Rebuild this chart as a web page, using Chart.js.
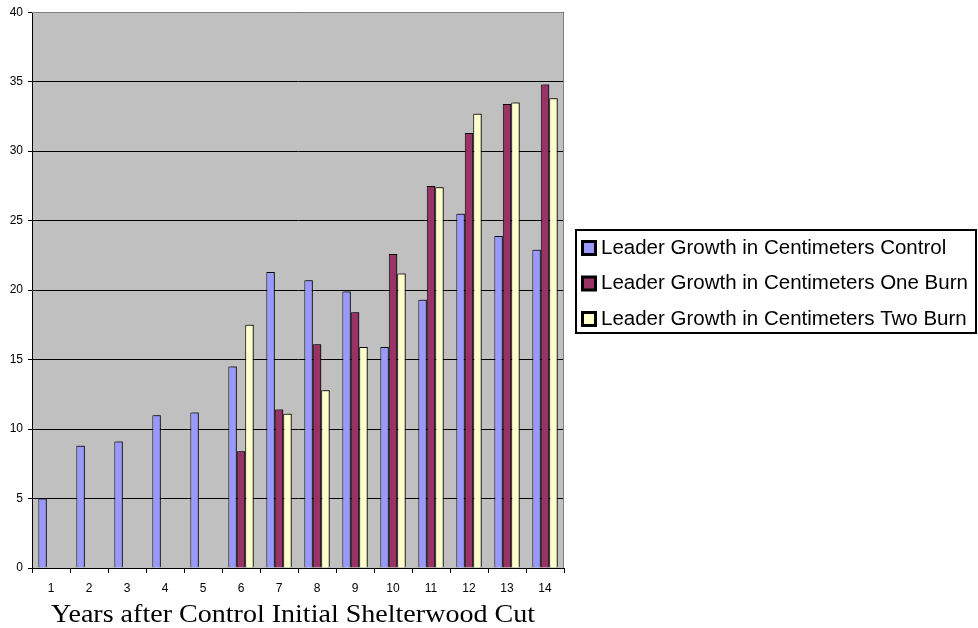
<!DOCTYPE html>
<html>
<head>
<meta charset="utf-8">
<script src="https://cdn.jsdelivr.net/npm/chart.js@4/dist/chart.umd.min.js"></script>
<style>
  html, body { margin: 0; padding: 0; background: #ffffff; }
  #wrap { width: 978px; height: 628px; position: relative; }
</style>
</head>
<body>
<div id="wrap"><canvas id="chart" width="978" height="628"></canvas></div>
<script>
// Years since the initial shelterwood cut
const years = ['1','2','3','4','5','6','7','8','9','10','11','12','13','14'];

// Leader growth (cm) per treatment; burns began in year 6
const controlGrowth = [5.0, 8.8, 9.1, 11.0, 11.2, 14.5, 21.3, 20.7, 19.9, 15.9, 19.3, 25.5, 23.9, 22.9];
const oneBurnGrowth = [null, null, null, null, null, 8.4, 11.4, 16.1, 18.4, 22.6, 27.5, 31.3, 33.4, 34.8];
const twoBurnGrowth = [null, null, null, null, null, 17.5, 11.1, 12.8, 15.9, 21.2, 27.4, 32.7, 33.5, 33.8];

const seriesNames = [
  'Leader Growth in Centimeters Control',
  'Leader Growth in Centimeters One Burn',
  'Leader Growth in Centimeters Two Burn'
];
const xTitle = 'Years after Control Initial Shelterwood Cut';

const SANS = "'Liberation Sans', Arial, sans-serif";
const SERIF = "'Liberation Serif', 'Times New Roman', serif";

// Grey plot background plus the thin grey frame on top/right
const plotFrame = {
  id: 'plotFrame',
  beforeDraw(chart) {
    const { ctx, chartArea: a } = chart;
    ctx.save();
    ctx.fillStyle = '#C0C0C0';
    ctx.fillRect(a.left, a.top, a.right - a.left, a.bottom - a.top);
    ctx.restore();
  },
  afterDatasetsDraw(chart) {
    const { ctx, chartArea: a } = chart;
    ctx.save();
    ctx.strokeStyle = '#808080';
    ctx.lineWidth = 1;
    ctx.beginPath();
    ctx.moveTo(a.left, Math.round(a.top) + 0.5);
    ctx.lineTo(Math.round(a.right) - 0.5, Math.round(a.top) + 0.5);
    ctx.lineTo(Math.round(a.right) - 0.5, a.bottom);
    ctx.stroke();
    ctx.restore();
  }
};

// Small drop shadow behind each bar
const barShadow = {
  id: 'barShadow',
  beforeDatasetDraw(chart) {
    const ctx = chart.ctx;
    ctx.save();
    ctx.shadowColor = 'rgba(0,0,0,0.45)';
    ctx.shadowOffsetX = 2;
    ctx.shadowOffsetY = -1;
    ctx.shadowBlur = 0;
  },
  afterDatasetDraw(chart) {
    chart.ctx.restore();
  }
};

// Axis title under the category labels, set slightly wide
const axisTitle = {
  id: 'axisTitle',
  afterDraw(chart) {
    const ctx = chart.ctx;
    ctx.save();
    ctx.font = '26px ' + SERIF;
    ctx.fillStyle = '#000';
    ctx.textBaseline = 'alphabetic';
    ctx.textAlign = 'left';
    const w = ctx.measureText(xTitle).width;
    const target = 484;
    ctx.translate(51, 622);
    ctx.scale(target / w, 1);
    ctx.fillText(xTitle, 0, 0);
    ctx.restore();
  }
};

// Boxed legend to the right of the plot
const boxedLegend = {
  id: 'boxedLegend',
  afterDraw(chart) {
    const ctx = chart.ctx;
    const box = { x: 576, y: 230, w: 400, h: 103 };
    const rowY = [248, 283.5, 319];
    ctx.save();
    ctx.strokeStyle = '#000';
    ctx.lineWidth = 2;
    ctx.strokeRect(box.x, box.y, box.w, box.h);
    ctx.font = '20.5px ' + SANS;
    ctx.textBaseline = 'middle';
    ctx.textAlign = 'left';
    chart.data.datasets.forEach((ds, i) => {
      const cy = rowY[i];
      ctx.fillStyle = '#000';
      ctx.fillRect(581, cy - 8, 16, 16);
      ctx.fillStyle = ds.backgroundColor;
      ctx.fillRect(584, cy - 5, 10, 10);
      ctx.fillStyle = '#000';
      ctx.fillText(ds.label, 601, cy);
    });
    ctx.restore();
  }
};

new Chart(document.getElementById('chart'), {
  type: 'bar',
  data: {
    labels: years,
    datasets: [
      { label: seriesNames[0], data: controlGrowth, backgroundColor: '#9999FF' },
      { label: seriesNames[1], data: oneBurnGrowth, backgroundColor: '#993366' },
      { label: seriesNames[2], data: twoBurnGrowth, backgroundColor: '#FFFFCC' }
    ]
  },
  options: {
    responsive: false,
    animation: false,
    devicePixelRatio: 1,
    layout: { padding: { left: 0, right: 414, top: 11, bottom: 0 } },
    datasets: {
      bar: {
        borderColor: '#000',
        borderWidth: 1,
        categoryPercentage: 0.667,
        barPercentage: 1.0
      }
    },
    plugins: {
      legend: { display: false },
      tooltip: { enabled: false },
      title: { display: false }
    },
    scales: {
      x: {
        grid: {
          offset: true,
          drawOnChartArea: false,
          drawTicks: true,
          tickLength: 5,
          color: '#000'
        },
        border: { color: '#000', width: 1 },
        ticks: {
          color: '#000',
          font: { family: SANS, size: 12 },
          padding: 8,
          maxRotation: 0,
          autoSkip: false
        },
        afterFit(scale) { scale.height = 60; }
      },
      y: {
        min: 0,
        max: 40,
        ticks: {
          stepSize: 5,
          color: '#000',
          font: { family: SANS, size: 12 },
          padding: 5
        },
        grid: {
          color: '#000',
          lineWidth: 1,
          tickLength: 4,
          drawTicks: true
        },
        border: { color: '#000', width: 1 },
        afterFit(scale) { scale.width = 32; }
      }
    }
  },
  plugins: [plotFrame, barShadow, axisTitle, boxedLegend]
});
</script>
</body>
</html>
